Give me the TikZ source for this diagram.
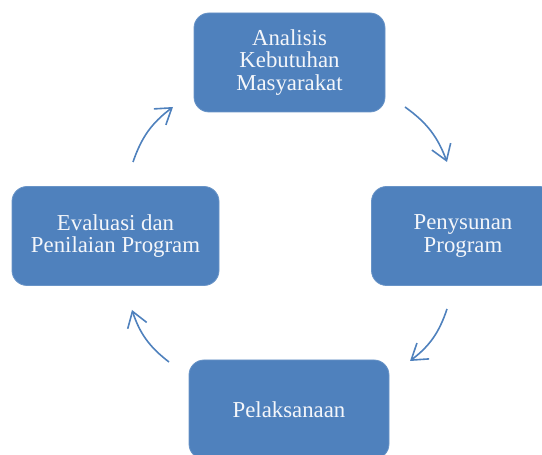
\documentclass[tikz,border=0pt]{standalone}
\usepackage{fontspec}
\setmainfont{Liberation Serif}
\usepackage{tikz}
\usetikzlibrary{arrows.meta, positioning}
\definecolor{stepblue}{HTML}{4F81BD}
\definecolor{steptext}{HTML}{F4F6FA}

\begin{document}
\begin{tikzpicture}[x=1pt, y=1pt,
        stepbox/.style={rectangle, fill=stepblue, draw=stepblue!85!white, line width=0.8pt, rounded corners=15pt, minimum height=99pt, align=center, text=steptext, font=\fontsize{22.8}{22.5}\selectfont},
        arrow/.style={-{Straight Barb[length=15pt, width=20pt]}, draw=stepblue, line width=1.6pt, bend left=17}
    ]
        \useasboundingbox (0,0) rectangle (542,455);
        \node[stepbox, minimum width=191pt] (analisis) at (289.5, 392.5) {Analisis\\Kebutuhan\\Masyarakat};
        \node[stepbox, minimum width=183pt] (susun) at (463, 219) {Penysunan\\Program};
        \node[stepbox, minimum width=200pt] (laksana) at (289, 45.5) {Pelaksanaan};
        \node[stepbox, minimum width=207pt] (evaluasi) at (115.5, 219) {Evaluasi dan\\Penilaian Program};
        % arrow ends between the boxes
        \coordinate (a1) at (405, 348);
        \coordinate (b1) at (447, 293);
        \coordinate (a2) at (447, 146);
        \coordinate (b2) at (410, 94);
        \coordinate (a3) at (169, 93);
        \coordinate (b3) at (132, 145);
        \coordinate (a4) at (133, 293);
        \coordinate (b4) at (173, 348);
        \draw[arrow] (a1) to (b1);
        \draw[arrow] (a2) to (b2);
        \draw[arrow] (a3) to (b3);
        \draw[arrow] (a4) to (b4);
    \end{tikzpicture}
\end{document}
